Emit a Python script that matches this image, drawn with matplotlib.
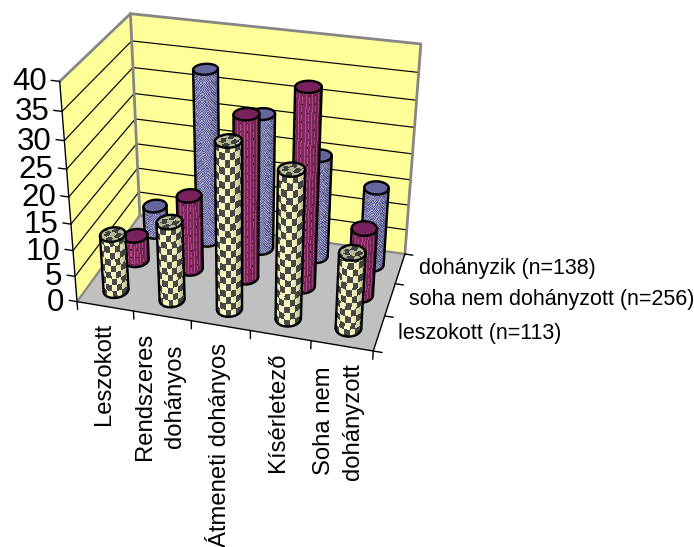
import numpy as np
import matplotlib
matplotlib.use("Agg")
import matplotlib.pyplot as plt
from mpl_toolkits.mplot3d.art3d import Poly3DCollection

categories = ["Leszokott", "Rendszeres\ndohányos", "Átmeneti dohányos", "Kísérletező", "Soha nem\ndohányzott"]
series_names = ["leszokott (n=113)", "soha nem dohányzott (n=256)", "dohányzik (n=138)"]
leszokott = [11, 15, 31, 27.5, 14.3]
soha_nem = [5, 14.5, 31, 37, 13]
dohanyzik = [5.5, 33.5, 26.5, 20, 15.3]
z_ticks = [0, 5, 10, 15, 20, 25, 30, 35, 40]

W, H = 694, 547
plt.rcParams["font.family"] = ["Liberation Sans", "DejaVu Sans"]

# camera calibration: data-space box corners and where they fall on the canvas
box = [(0, 0, 0), (5, 0, 0), (5, 3, 0), (0, 3, 0), (0, 0, 40), (0, 3, 40), (5, 3, 40)]
img = [(77, 302), (373, 351), (405, 254), (140, 215), (60, 81), (130, 14), (421, 44)]
rows = []
for (X, Y, Z), (u, v) in zip(box, img):
    rows.append([X, Y, Z, 1, 0, 0, 0, 0, -u * X, -u * Y, -u * Z, -u])
    rows.append([0, 0, 0, 0, X, Y, Z, 1, -v * X, -v * Y, -v * Z, -v])
sol = np.linalg.svd(np.array(rows, float))[2][-1]
P = sol.reshape(3, 4)
if P[2, 3] < 0:
    P = -P
M = np.vstack([P[0], P[1], [0, 1, 0.001, 0.5], P[2]])


def project(x, y, z):
    q = P @ np.array([x, y, z, 1.0])
    return q[0] / q[2], q[1] / q[2]


fig = plt.figure(figsize=(W / 100, H / 100), dpi=100, facecolor="white")
ax = fig.add_axes([0, 0, 1, 1], projection="3d", computed_zorder=False, proj_type="ortho")
ax.set_axis_off()
ax.patch.set_visible(False)
ax.get_proj = lambda: M
ax.apply_aspect = lambda position=None: None

GRAY = "#868686"
order = [0]


def next_z():
    order[0] += 1
    return order[0]


def poly(verts, **kw):
    ax.add_collection3d(Poly3DCollection([verts], zorder=next_z(), **kw))


def line(xs, ys, zs, color="black", lw=1.0):
    ax.plot(xs, ys, zs, color=color, lw=lw, zorder=next_z(), solid_capstyle="round")


XM, YM, ZM = 5, 3, 40
poly([(0, 0, 0), (0, YM, 0), (XM, YM, 0), (XM, 0, 0)], facecolor="#C0C0C0", edgecolor="none")
poly([(0, 0, 0), (0, YM, 0), (0, YM, ZM), (0, 0, ZM)], facecolor="#FFFF99", edgecolor="none")
poly([(0, YM, 0), (XM, YM, 0), (XM, YM, ZM), (0, YM, ZM)], facecolor="#FFFF99", edgecolor="none")
for t in z_ticks[1:-1]:
    line([0, 0, XM], [0, YM, YM], [t, t, t], lw=0.85)
line([0, 0], [0, YM], [ZM, ZM], GRAY, 2.0)
line([0, XM], [YM, YM], [ZM, ZM], GRAY, 2.0)
line([0, 0], [YM, YM], [0, ZM], GRAY, 2.0)
line([XM, XM], [YM, YM], [0, ZM], GRAY, 2.0)
line([0, 0], [0, YM], [0, 0], GRAY, 1.6)
line([0, XM], [YM, YM], [0, 0], GRAY, 1.6)
line([0, 0], [0, 0], [0, ZM], "black", 1.0)
line([0, XM], [0, 0], [0, 0], "black", 1.0)
line([XM, XM], [0, YM], [0, 0], "black", 1.0)
for t in z_ticks:
    line([0, -0.14], [0, 0], [t, t])
for i in range(len(categories) + 1):
    line([i, i], [0, 0], [0, -1.6])
for j in range(len(series_names) + 1):
    line([XM, XM + 0.14], [j, j], [0, 0])

RX, RY = 0.205, 0.235


def shade(s):
    return 0.42 + 0.58 * np.clip(np.cos((s + 0.22) * np.pi / 2.5), 0, 1) ** 0.7


def texture(kind, s, z, col, row):
    sh = shade(s)[..., None]
    if kind == 0:
        c = (np.floor((s + 1.08) / 2 * 5.1) + np.floor(z / 1.25)) % 2
        light = np.array([0.93, 0.93, 0.72])
        dark = np.array([0.22, 0.22, 0.22])
        rgb = np.where(c[..., None] > 0, light * (0.35 + 0.7 * sh), dark * (0.8 + 0.5 * sh))
        a = 1.0
    elif kind == 1:
        c = (col % 3 == 1)
        base = np.array([0.44, 0.13, 0.33])
        lit = np.array([0.60, 0.27, 0.44])
        rgb = np.where(c[..., None], lit, base) * (0.55 + 0.6 * sh)
        dots = (col % 6 == 1) & (row % 6 == 1)
        rgb = np.where(dots[..., None], np.array([0.2, 0.08, 0.2]), rgb)
        a = 0.9
    else:
        c = (col + row) % 2 == 0
        rgb = np.where(c[..., None], np.array([0.30, 0.30, 0.55]), np.array([0.62, 0.62, 0.72])) * (0.5 + 0.6 * sh)
        a = 0.88
    rgb = np.clip(rgb, 0, 1)
    return np.concatenate([rgb, np.full(rgb.shape[:-1] + (1,), a)], axis=-1)


def cylinder(cx, cy, height, kind):
    th = np.linspace(0, 2 * np.pi, 361)[:-1]
    px = np.array([project(cx + RX * np.cos(t), cy + RY * np.sin(t), height / 2)[0] for t in th])
    tl, tr = th[px.argmin()], th[px.argmax()]
    # front half runs from left silhouette to right silhouette through the near side
    if tr < tl:
        tr += 2 * np.pi
    if np.sin((tl + tr) / 2) > 0:
        tr -= 2 * np.pi
    tc = (tl + tr) / 2
    half = (tr - tl) / 2
    ncol = 26
    s_edges = np.linspace(-1, 1, ncol + 1)
    t_edges = tc + np.arcsin(s_edges) * (half / (np.pi / 2))
    nrow = max(2, int(round(height / 0.25)))
    z_edges = np.linspace(0, height, nrow + 1)
    T, Zg = np.meshgrid(t_edges, z_edges)
    Xg = cx + RX * np.cos(T)
    Yg = cy + RY * np.sin(T)
    sc = (s_edges[:-1] + s_edges[1:]) / 2
    zc = (z_edges[:-1] + z_edges[1:]) / 2
    S, ZZ = np.meshgrid(sc, zc)
    C, R = np.meshgrid(np.arange(ncol), np.arange(nrow))
    ax.plot_surface(Xg, Yg, Zg, facecolors=texture(kind, S, ZZ, C, R), rstride=1, cstride=1,
                    shade=False, linewidth=0, antialiased=False, zorder=next_z())
    # top cap
    rr = np.linspace(0, 1, 9)
    tt = np.linspace(0, 2 * np.pi, 41)
    Rr, Tt = np.meshgrid(rr, tt)
    Xc = cx + RX * Rr * np.cos(Tt)
    Yc = cy + RY * Rr * np.sin(Tt)
    Zc = np.full_like(Xc, height)
    if kind == 0:
        u = (Xc[:-1, :-1] + Xc[1:, 1:] - 2 * cx) / (2 * RX)
        v = (Yc[:-1, :-1] + Yc[1:, 1:] - 2 * cy) / (2 * RY)
        ck = (np.floor((u + 1.1) * 2.2) + np.floor((v + 1.1) * 1.5)) % 2
        fc = np.where(ck[..., None] > 0, np.array([0.72, 0.72, 0.58, 1.0]), np.array([0.25, 0.25, 0.25, 1.0]))
    elif kind == 1:
        fc = np.full(Xc[:-1, :-1].shape + (4,), 0.0)
        fc[...] = (0.47, 0.13, 0.36, 1.0)
    else:
        fc = np.full(Xc[:-1, :-1].shape + (4,), 0.0)
        fc[...] = (0.40, 0.40, 0.62, 1.0)
    ax.plot_surface(Xc, Yc, Zc, facecolors=fc, rstride=1, cstride=1, shade=False,
                    linewidth=0, antialiased=False, zorder=next_z())
    lw = 1.7
    ring = np.linspace(0, 2 * np.pi, 73)
    line(cx + RX * np.cos(ring), cy + RY * np.sin(ring), np.full_like(ring, height), lw=lw)
    arc = np.linspace(tl, tr, 37)
    line(cx + RX * np.cos(arc), cy + RY * np.sin(arc), np.zeros_like(arc), lw=lw)
    for t in (tl, tr):
        line([cx + RX * np.cos(t)] * 2, [cy + RY * np.sin(t)] * 2, [0, height], lw=lw)


all_series = [leszokott, soha_nem, dohanyzik]
for j in (2, 1, 0):
    for i, val in enumerate(all_series[j]):
        cylinder(i + 0.5, j + 0.5, val, j)


def put(px, py, s, **kw):
    fig.text(px / W, 1 - py / H, s, **kw)


for t in z_ticks:
    x0, y0 = project(0, 0, t)
    put(x0 - 13, y0 + 1, str(t), ha="right", va="center", fontsize=22.5, color="black")
for i, name in enumerate(categories):
    x0, y0 = project(i + 0.5, 0, 0)
    put(x0 - 1.5 - 0.5 * i, y0 + 17, name, rotation=90, ha="center", va="top", fontsize=17.2,
        multialignment="center", linespacing=1.45)
for j, name in enumerate(series_names):
    x0, y0 = project(XM, j + 0.5, 0)
    put(x0 + 19, y0, name, ha="left", va="center", fontsize=15.5)

ax.viewLim.intervalx = (0, W)
ax.viewLim.intervaly = (H, 0)
fig.savefig("out.png", dpi=100, facecolor="white")
